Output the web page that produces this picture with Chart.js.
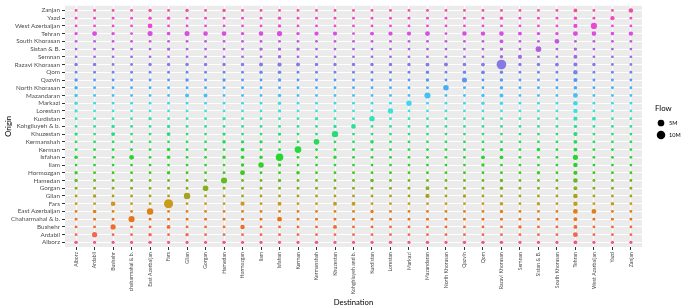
<!DOCTYPE html>
<html>
<head>
<meta charset="utf-8">
<script src="https://cdn.jsdelivr.net/npm/chart.js@4.4.1/dist/chart.umd.min.js"></script>
<style>
  html, body { margin: 0; padding: 0; background: #fff; }
  #wrap { width: 682px; height: 308px; }
</style>
</head>
<body>
<div id="wrap"><canvas id="myChart" width="682" height="308"></canvas></div>
<script>
// origins, bottom to top
var origins = ['Alborz', 'Ardabil', 'Bushehr', 'Chaharmahal & b.', 'East Azerbaijan', 'Fars', 'Gilan', 'Gorgan',
  'Hamedan', 'Hormozgan', 'Ilam', 'Isfahan', 'Kerman', 'Kermanshah', 'Khuzestan', 'Kohgiluyeh & b.', 'Kurdistan',
  'Lorestan', 'Markazi', 'Mazandaran', 'North Khorasan', 'Qazvin', 'Qom', 'Razavi Khorasan', 'Semnan', 'Sistan & B.',
  'South Khorasan', 'Tehran', 'West Azerbaijan', 'Yazd', 'Zanjan'];

var destinations = ['Alborz', 'Ardabil', 'Bushehr', 'chaharmahal & b.', 'East Azerbaijan', 'Fars', 'Gilan', 'Gorgan',
  'Hamedan', 'Hormozgan', 'Ilam', 'Isfahan', 'Kerman', 'Kermanshah', 'Khuzestan', 'Kohghluyeh and b.', 'Kurdistan',
  'Lorestan', 'Markazi', 'Mazandaran', 'North Khorasan', 'Qazvin', 'Qom', 'Razavi Khorasan', 'Semnan', 'Sistan & B.',
  'South Khorasan', 'Tehran', 'West Azarbaijan', 'Yazd', 'Zanjan'];

// flow in millions, one row per origin (same order), one value per destination
var flows = [
  [.4,.2,.2,.2,.4,.2,.2,.2,.4,.2,.2,.2,.2,.4,.2,.2,.2,.4,.2,.4,.2,.4,.4,.4,.2,.2,.2,.6,.2,.2,.2],
  [.1,2.2,.1,.1,.4,.1,.35,.1,.1,.1,.1,.1,.1,.1,.1,.1,.1,.1,.1,.1,.1,.1,.1,.1,.1,.1,.1,1.8,.1,.1,.1],
  [.1,.1,2.2,.1,.1,.6,.1,.1,.1,1.3,.1,.1,.1,.1,.7,.1,.1,.1,.1,.1,.1,.1,.1,.1,.35,.1,.1,.7,.1,.1,.1],
  [.1,.1,.1,3.8,.1,.1,.1,.1,.1,.1,.1,1.6,.1,.1,.1,.1,.1,.1,.1,.1,.1,.1,.1,.1,.1,.1,.1,.6,.1,.1,.1],
  [.1,.5,.1,.1,4.5,.1,.1,.1,.1,.1,.1,.1,.1,.1,.1,.1,.35,.1,.1,.1,.1,.1,.1,.35,.1,.1,.1,1.6,1.6,.1,.1],
  [.1,.1,1.5,.1,.1,12,.1,.1,.1,1,.1,.7,.1,.1,.7,.7,.1,.1,.1,.1,.1,.1,.1,.5,.1,.35,.1,1.2,.1,.5,.1],
  [.1,.35,.1,.1,.1,.1,4.5,.1,.1,.1,.1,.1,.1,.1,.1,.1,.1,.1,.1,1,.1,.35,.1,.1,.1,.1,.1,1.4,.1,.1,.1],
  [.1,.1,.1,.1,.1,.1,.1,3,.1,.1,.1,.1,.1,.1,.1,.1,.1,.1,.1,.6,.1,.1,.1,.35,.1,.1,.1,.7,.1,.1,.1],
  [.35,.1,.1,.1,.1,.1,.1,.1,3.8,.1,.1,.35,.1,.1,.1,.1,.5,.1,.1,.1,.1,.1,.1,.35,.1,.1,.1,1.4,.1,.1,.1],
  [.35,.1,.1,.1,.1,.4,.1,.1,.1,1.8,.1,.1,.5,.1,.1,.1,.1,.1,.1,.1,.1,.1,.1,.1,.1,.35,.1,1,.1,.1,.1],
  [.1,.1,.1,.1,.1,.1,.1,.1,.1,.35,2.7,.35,.1,.1,.1,.1,.1,.1,.1,.1,.1,.1,.35,.1,.1,.1,.1,1.3,.1,.1,.1],
  [.5,.1,.1,1.6,.1,.5,.1,.1,.35,.5,.35,7,.1,.1,.35,.1,.1,.1,.1,.1,.1,.1,.6,.6,.1,.1,.1,2.2,.1,.1,.1],
  [.1,.1,.1,.1,.1,.4,.1,.1,.1,.6,.1,.1,5,.1,.1,.1,.1,.1,.1,.1,.1,.1,.1,.35,.1,.5,.1,.6,.1,.1,.1],
  [.1,.1,.1,.1,.1,.1,.1,.1,.5,.35,.35,.1,.1,3,.1,.1,.5,.1,.1,.1,.1,.1,.1,.1,.1,.1,.1,.7,.1,.1,.1],
  [.35,.1,.7,.1,.1,.7,.1,.1,.35,.1,.1,.35,.1,.1,4.5,.1,.1,.1,.1,.1,.1,.1,.1,.1,.1,.1,.1,1,.1,.1,.1],
  [.1,.1,.35,.1,.1,.35,.1,.1,.1,.1,.1,.1,.1,.1,.35,1.5,.1,.1,.1,.1,.1,.1,.1,.1,.1,.1,.1,.4,.1,.1,.1],
  [.1,.1,.1,.1,.35,.1,.1,.1,.35,.1,.1,.1,.1,.35,.1,.1,2.5,.1,.1,.1,.1,.1,.1,.1,.1,.1,.1,1,.6,.1,.1],
  [.3,.1,.1,.1,.1,.1,.1,.1,.1,.1,.1,.35,.1,.1,.1,.1,.1,2.5,.1,.1,.1,.1,.1,.1,.1,.1,.1,1.2,.1,.1,.1],
  [.35,.1,.1,.1,.1,.1,.1,.1,.1,.1,.1,.35,.1,.1,.1,.1,.1,.1,2.5,.1,.1,.1,.35,.35,.1,.1,.1,1.4,.1,.1,.1],
  [.35,.1,.1,.1,.1,.1,.7,.7,.1,.1,.1,.35,.1,.1,.1,.1,.1,.1,.1,3.8,.1,.1,.35,.7,.1,.1,.1,1.6,.1,.1,.1],
  [.4,.1,.1,.1,.1,.1,.1,.1,.1,.1,.1,.1,.1,.1,.1,.1,.1,.1,.1,.1,2.8,.1,.1,.4,.1,.1,.1,.5,.1,.1,.1],
  [.35,.1,.1,.1,.1,.1,.4,.1,.35,.1,.1,.35,.1,.1,.1,.1,.1,.1,.1,.35,.1,2,.1,.35,.1,.1,.1,1,.1,.1,.1],
  [.1,.1,.1,.1,.1,.1,.1,.1,.1,.1,.35,.5,.1,.1,.1,.1,.1,.1,.1,.35,.1,.35,.6,.35,.1,.1,.1,1.3,.1,.1,.1],
  [.4,.35,.1,.1,.35,.35,.35,.35,.35,.35,.7,1,.7,.35,.35,.35,.35,.35,.35,.6,.7,.5,.6,14,.35,.35,.6,.9,.35,.1,.1],
  [.1,.1,.1,.1,.1,.1,.1,.1,.1,.1,.1,.35,.1,.1,.1,.1,.1,.1,.1,.1,.1,.1,.1,.35,1,.1,.1,.7,.1,.1,.1],
  [.1,.1,.1,.1,.1,.35,.1,.1,.1,.1,.35,.35,.35,.1,.1,.1,.1,.1,.1,.1,.1,.1,.1,.35,.1,3.2,.1,.35,.1,.1,.1],
  [.1,.1,.1,.1,.1,.1,.1,.1,.1,.1,.1,.1,.1,.1,.1,.1,.1,.1,.1,.1,.1,.1,.1,.6,.1,.1,1.6,.1,.1,.1,.1],
  [.3,1.7,.35,.1,2,.5,2,1.4,1.6,.35,1.4,2.2,.35,1,1,.1,.7,1,1,1.6,.1,1.3,1.2,1.4,.7,.4,.4,1.8,1.4,.5,1.2],
  [.1,.1,.1,.1,1.7,.1,.1,.1,.1,.1,.1,.35,.1,.1,.1,.1,.1,.1,.1,.1,.1,.1,.1,.1,.1,.1,.1,1,4,.1,.1],
  [.1,.1,.1,.1,.35,.35,.1,.1,.1,.1,.1,.35,.1,.1,.1,.1,.1,.1,.1,.1,.1,.1,.1,.35,.1,.1,.1,.35,.1,1,.1],
  [.1,.1,.1,.1,.35,.1,.35,.1,.35,.1,.1,.1,.1,.1,.1,.1,.1,.1,.1,.1,.1,.1,.1,.1,.1,.1,.1,.6,.1,.1,1.4]
];

var legendValues = [5, 10];
var legendLabels = ['5M', '10M'];

var colours = ['#F4557E', '#F6644F', '#F06A2A', '#E8731A', '#DB8118', '#C99A1C', '#A7A21E', '#86AE1F',
  '#5FBC22', '#3FC824', '#2CD12A', '#27D62E', '#25D83C', '#26D95A', '#28DA78', '#2DDD98', '#33E0B8',
  '#3AE2DC', '#3ED6F0', '#44C1F4', '#4AACF4', '#5896F0', '#6E86EA', '#8878E4', '#9E6CE0', '#B160E0',
  '#C656E2', '#DA4CE2', '#EC48D6', '#F347C0', '#F34AA6'];

var FONT = 'Lato';

// area-style size scale
function radius(v) { return 1.1 + 1.0 * Math.sqrt(v); }

var datasets = origins.map(function (o, j) {
  return {
    label: o,
    data: flows[j].map(function (v, i) { return { x: i, y: j, r: radius(v) }; }),
    backgroundColor: colours[j],
    borderWidth: 0
  };
});

var panelBg = {
  id: 'panelBg',
  beforeDraw: function (chart) {
    var c = chart.ctx, a = chart.chartArea;
    c.save();
    c.fillStyle = '#EBEBEB';
    c.fillRect(a.left, a.top, a.right - a.left, a.bottom - a.top);
    c.restore();
  }
};

var sizeLegend = {
  id: 'sizeLegend',
  afterDraw: function (chart) {
    var c = chart.ctx;
    c.save();
    c.fillStyle = '#000';
    c.font = '7.8px ' + FONT;
    c.textBaseline = 'middle';
    c.fillText('Flow', 655, 108);
    c.font = '5.6px ' + FONT;
    legendValues.forEach(function (v, k) {
      var y = 123 + k * 12;
      c.beginPath();
      c.arc(661, y, radius(v), 0, Math.PI * 2);
      c.fill();
      c.fillText(legendLabels[k], 669, y);
    });
    c.restore();
  }
};

var ctx = document.getElementById('myChart').getContext('2d');
var myChart = new Chart(ctx, {
  type: 'bubble',
  data: { datasets: datasets },
  plugins: [panelBg, sizeLegend],
  options: {
    responsive: false,
    animation: false,
    events: [],
    layout: { padding: { top: 0, right: 40, left: 0, bottom: 0 } },
    plugins: { legend: { display: false }, tooltip: { enabled: false } },
    scales: {
      x: {
        type: 'linear',
        min: -0.6,
        max: 30.6,
        afterBuildTicks: function (s) { s.ticks = destinations.map(function (d, i) { return { value: i }; }); },
        afterFit: function (s) { s.height = 61; },
        ticks: {
          autoSkip: false, minRotation: 90, maxRotation: 90, padding: 2,
          color: '#4D4D4D', font: { family: FONT, size: 5.2 },
          callback: function (v) { return destinations[v]; }
        },
        grid: { color: '#FFFFFF', lineWidth: 1, tickColor: '#333333', tickLength: 3 },
        border: { display: false },
        title: { display: true, text: 'Destination', color: '#000', font: { family: FONT, size: 7.7 }, padding: { top: 0, bottom: 1 } }
      },
      y: {
        type: 'linear',
        min: -0.6,
        max: 30.6,
        afterBuildTicks: function (s) { s.ticks = origins.map(function (o, i) { return { value: i }; }); },
        afterFit: function (s) { s.width = 65; },
        ticks: {
          autoSkip: false, padding: 2,
          color: '#4D4D4D', font: { family: FONT, size: 6.3 },
          callback: function (v) { return origins[v]; }
        },
        grid: { color: '#FFFFFF', lineWidth: 1, tickColor: '#333333', tickLength: 3 },
        border: { display: false },
        title: { display: true, text: 'Origin', color: '#000', font: { family: FONT, size: 7.7 }, padding: { top: 4, bottom: 0 } }
      }
    }
  }
});
</script>
</body>
</html>
